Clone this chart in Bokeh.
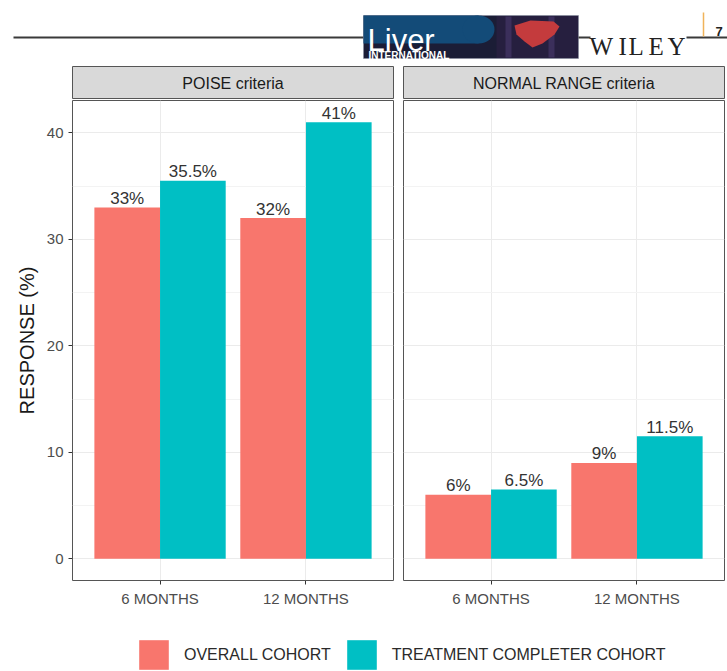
from bokeh.plotting import figure
from bokeh.models import ColumnDataSource, Range1d, FactorRange, FixedTicker, Legend, LegendItem
from bokeh.transform import dodge
from bokeh.layouts import column, row
from bokeh.embed import file_html
from bokeh.resources import INLINE
from bokeh.core.properties import value

# ---------------- data ----------------
months = ["6 MONTHS", "12 MONTHS"]
panels = ["POISE criteria", "NORMAL RANGE criteria"]
cohorts = ["OVERALL COHORT", "TREATMENT COMPLETER COHORT"]
poise_overall = [33, 32]
poise_completer = [35.5, 41]
normal_overall = [6, 9]
normal_completer = [6.5, 11.5]
y_ticks = [0, 10, 20, 30, 40]
y_minor = [5, 15, 25, 35]
y_title = "RESPONSE (%)"

COLORS = ["#F8766D", "#00BFC4"]
FONT = "Liberation Sans"
SERIF = "Liberation Serif"
BORDER = "#555555"

Y_RANGE = (-2.05, 43.05)


def base_fig(**kw):
    return figure(output_backend="svg", toolbar_location=None, **kw)


def make_strip(label, width, left, right):
    s = base_fig(width=width, height=34, x_range=Range1d(0, 1), y_range=Range1d(0, 1),
                 min_border_left=left, min_border_right=right, min_border_top=1, min_border_bottom=0,
                 x_axis_location=None, y_axis_location=None,
                 background_fill_color="#d9d9d9", border_fill_color="white",
                 outline_line_color=BORDER, outline_line_width=1)
    s.grid.visible = False
    s.text(x=[0.5], y=[0.5], text=[label], text_align="center", text_baseline="middle",
           text_font=value(FONT), text_font_size="16px", text_color="#1a1a1a")
    return s


def make_panel(overall, completer, width, left, right, show_y):
    p = base_fig(width=width, height=513,
                 x_range=FactorRange(factors=months, range_padding=0.1, range_padding_units="absolute"),
                 y_range=Range1d(*Y_RANGE),
                 min_border_left=left, min_border_right=right, min_border_top=1, min_border_bottom=32,
                 y_axis_location="left" if show_y else None,
                 background_fill_color="white", border_fill_color="white",
                 outline_line_color=BORDER, outline_line_width=1)
    tick = FixedTicker(ticks=y_ticks, minor_ticks=y_minor)
    p.ygrid.ticker = tick
    p.ygrid.grid_line_color = "#ebebeb"
    p.ygrid.grid_line_width = 1
    p.ygrid.minor_grid_line_color = "#f3f3f3"
    p.ygrid.minor_grid_line_width = 1
    p.xgrid.grid_line_color = "#ebebeb"
    p.xgrid.grid_line_width = 1

    for vals, off, col in [(overall, -0.225, COLORS[0]), (completer, 0.225, COLORS[1])]:
        src = ColumnDataSource(dict(month=months, value=vals,
                                    label=[f"{v:g}%" for v in vals]))
        xx = dodge("month", off, range=p.x_range)
        p.vbar(x=xx, top="value", bottom=0, width=0.45, source=src,
               fill_color=col, line_color=None)
        p.text(x=xx, y="value", text="label", source=src, text_align="center",
               text_baseline="alphabetic", y_offset=-9,
               text_font=value(FONT), text_font_size="17px", text_color="#333333")

    xa = p.xaxis[0]
    xa.axis_line_color = None
    xa.major_tick_out = 4
    xa.major_tick_in = 0
    xa.major_tick_line_color = "#333333"
    xa.major_label_text_font = FONT
    xa.major_label_text_font_size = "15px"
    xa.major_label_text_color = "#4d4d4d"
    xa.major_label_standoff = 5

    if show_y:
        ya = p.yaxis[0]
        ya.ticker = tick
        ya.axis_line_color = None
        ya.major_tick_out = 4
        ya.major_tick_in = 0
        ya.minor_tick_line_color = None
        ya.major_tick_line_color = "#333333"
        ya.major_label_text_font = FONT
        ya.major_label_text_font_size = "15px"
        ya.major_label_text_color = "#4d4d4d"
        ya.major_label_standoff = 5
        ya.axis_label = y_title
        ya.axis_label_text_font = FONT
        ya.axis_label_text_font_size = "20px"
        ya.axis_label_text_font_style = "normal"
        ya.axis_label_text_color = "#1a1a1a"
        ya.axis_label_standoff = 6
    return p


# ---------------- header (journal banner) ----------------
H = base_fig(width=727, height=65, x_range=Range1d(0, 727), y_range=Range1d(65, 0),
             min_border=0, x_axis_location=None, y_axis_location=None,
             outline_line_color=None, background_fill_color="white", border_fill_color="white")
H.grid.visible = False
H.line([13, 363], [37, 37], line_width=2, line_color="#3a3a3a")
H.quad(left=[363], right=[578], top=[15], bottom=[58], fill_color="#1b1d36", line_color="#8a8fa3", line_width=0.5)
H.quad(left=[363], right=[478], top=[15], bottom=[43], fill_color="#134b78", line_color=None)
H.ellipse(x=[478], y=[29], width=[32], height=[28], fill_color="#134b78", line_color=None)
H.quad(left=[496], right=[577.5], top=[15.5], bottom=[57.5], fill_color="#261f3f", line_color=None)
H.quad(left=[505, 548], right=[511, 554], top=[16, 16], bottom=[57, 57], fill_color="#4a3a6e", line_color=None, fill_alpha=0.6)
H.patch(x=[514, 530, 553, 559, 554, 542, 532, 524, 516],
        y=[25, 20, 21, 26, 34, 43, 47, 41, 34], fill_color="#c43b3d", line_color=None)
H.text(x=[367], y=[40], text=["Liver"], text_font=value(FONT), text_font_size="31px",
       text_color="white", text_baseline="alphabetic")
H.text(x=[368], y=[55], text=["INTERNATIONAL"], text_font=value(FONT), text_font_size="10px",
       text_font_style="bold", text_color="white", text_baseline="alphabetic")
H.line([578, 590], [37, 37], line_width=2, line_color="#3a3a3a")
H.text(x=[589, 618, 628, 648, 667], y=[46] * 5, text=list("WILEY"),
       text_font=value(SERIF), text_font_size="25px", text_color="#222222", text_baseline="alphabetic")
H.line([686, 727], [37, 37], line_width=2, line_color="#3a3a3a")
H.line([703, 703], [12, 36], line_width=1.5, line_color="#f0b35a")
H.text(x=[715], y=[31], text=["7"], text_font=value(FONT), text_font_size="13px",
       text_font_style="bold", text_color="#222222", text_baseline="alphabetic")

# ---------------- panels ----------------
LW, LL, LR = 397, 72, 4
RW, RL, RR = 330, 6, 3
strip_l = make_strip(panels[0], LW, LL, LR)
strip_r = make_strip(panels[1], RW, RL, RR)
panel_l = make_panel(poise_overall, poise_completer, LW, LL, LR, True)
panel_r = make_panel(normal_overall, normal_completer, RW, RL, RR, False)

# ---------------- legend ----------------
L = base_fig(width=727, height=59, x_range=Range1d(0, 1), y_range=Range1d(0, 1),
             min_border=0, x_axis_location=None, y_axis_location=None,
             outline_line_color=None, background_fill_color="white", border_fill_color="white")
L.grid.visible = False
# legend-only renderers, placed outside the visible range
r1 = L.vbar(x=[5], top=[6], bottom=[5], width=0.1, fill_color=COLORS[0], line_color=None)
r2 = L.vbar(x=[5], top=[6], bottom=[5], width=0.1, fill_color=COLORS[1], line_color=None)
leg = Legend(items=[LegendItem(label=cohorts[0], renderers=[r1]),
                    LegendItem(label=cohorts[1], renderers=[r2])],
             location=(135, -2), orientation="horizontal",
             glyph_width=37, glyph_height=37, label_standoff=12, spacing=12,
             padding=0, margin=0, border_line_color=None, background_fill_alpha=0,
             label_text_font=FONT, label_text_font_size="16px", label_text_color="#2a2a2a")
L.add_layout(leg, "center")

layout = column(H,
                row(column(strip_l, panel_l), column(strip_r, panel_r)),
                L)

open("out.html", "w").write(file_html(layout, INLINE))
